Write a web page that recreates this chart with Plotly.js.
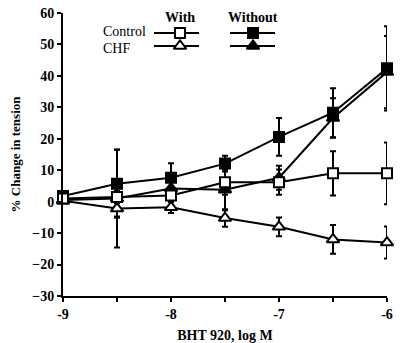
<!DOCTYPE html>
<html>
<head>
<meta charset="utf-8">
<script src="https://cdn.plot.ly/plotly-3.0.1.min.js"></script>
<style>html,body{margin:0;padding:0;background:#fff;}#chart{width:411px;height:343px;}</style>
</head>
<body>
<div id="chart"></div>
<script>
// Data
const logDose = [-9, -8.5, -8, -7.5, -7, -6.5, -6];
const controlWith = [1, 1.5, 2, 6.2, 6.2, 9, 9];
const controlWithErr = [0.8, 2, 2, 4, 4, 7, 9.8];
const controlWithout = [1.8, 5.7, 7.6, 12.1, 20.6, 28.3, 42.4];
const controlWithoutErr = [0.8, 10.8, 4.6, 2.5, 6, 7.8, 13.4];
const chfWith = [0.3, -2.2, -1.8, -5.2, -8, -12, -13];
const chfWithErr = [0.6, 2.5, 1.8, 2.8, 3, 4.6, 5.1];
const chfWithout = [0.5, 1, 4.2, 3.8, 7.6, 26.6, 41.2];
const chfWithoutErr = [0.6, 15.6, 4, 6.5, 3.8, 6.3, 11.5];
const xTickVals = [-9, -8.5, -8, -7.5, -7, -6.5, -6];
const xTickText = ['-9', '', '-8', '', '-7', '', '-6'];
const yTickVals = [-30, -20, -10, 0, 10, 20, 30, 40, 50, 60];

const FONT = 'Liberation Serif, Times New Roman, serif';
const BLACK = '#000';

function series(y, err, symbol, fill) {
  return {
    x: logDose, y: y, type: 'scatter', mode: 'lines+markers',
    cliponaxis: false, showlegend: false,
    line: {color: BLACK, width: 2},
    marker: {symbol: symbol, size: symbol.indexOf('triangle') >= 0 ? 11 : 10,
             color: fill, line: {color: BLACK, width: 2}},
    error_y: {type: 'data', array: err, visible: true, color: BLACK, thickness: 2, width: 3}
  };
}

const traces = [
  series(chfWithout, chfWithoutErr, 'triangle-up', BLACK),
  series(controlWithout, controlWithoutErr, 'square', BLACK),
  series(chfWith, chfWithErr, 'triangle-up', '#fff'),
  series(controlWith, controlWithErr, 'square', '#fff')
];

// Legend samples on a pixel-mapped overlay axis
const legCols = [[154, 199, 180], [230, 275, 253]];
const legRows = [33, 46];
const legSymbols = [['square', 'square'], ['triangle-up', 'triangle-up']];
const legFills = [['#fff', BLACK], ['#fff', BLACK]];
for (let r = 0; r < 2; r++) {
  for (let c = 0; c < 2; c++) {
    const [x0, x1, xm] = legCols[c];
    traces.push({
      x: [x0, x1], y: [legRows[r], legRows[r]], xaxis: 'x2', yaxis: 'y2',
      type: 'scatter', mode: 'lines', showlegend: false, hoverinfo: 'skip',
      line: {color: BLACK, width: 2}, cliponaxis: false
    });
    traces.push({
      x: [xm], y: [legRows[r]], xaxis: 'x2', yaxis: 'y2',
      type: 'scatter', mode: 'markers', showlegend: false, hoverinfo: 'skip', cliponaxis: false,
      marker: {symbol: legSymbols[r][c], size: legSymbols[r][c] === 'square' ? 10 : 11,
               color: legFills[r][c], line: {color: BLACK, width: 2}}
    });
  }
}

const layout = {
  width: 411, height: 343,
  margin: {l: 63, r: 24, t: 13, b: 47},
  paper_bgcolor: '#fff', plot_bgcolor: '#fff',
  font: {family: FONT, color: BLACK, size: 14, weight: 'bold'},
  xaxis: {
    range: [-9, -6], showgrid: false, zeroline: false,
    showline: true, linecolor: BLACK, linewidth: 2,
    ticks: 'outside', ticklen: 4, tickwidth: 2, tickcolor: BLACK,
    tickvals: xTickVals, ticktext: xTickText,
    tickfont: {family: FONT, size: 14, weight: 'bold'},
    title: {text: 'BHT 920, log M', font: {family: FONT, size: 14, weight: 'bold'}, standoff: 9}
  },
  yaxis: {
    range: [-30, 60], showgrid: false, zeroline: false,
    showline: true, linecolor: BLACK, linewidth: 2,
    ticks: 'outside', ticklen: 4, tickwidth: 2, tickcolor: BLACK,
    tickvals: yTickVals,
    tickfont: {family: FONT, size: 14, weight: 'bold'},
    title: {text: '% Change in tension', font: {family: FONT, size: 13, weight: 'bold'}, standoff: 9}
  },
  xaxis2: {overlaying: 'x', range: [63, 387], visible: false, fixedrange: true},
  yaxis2: {overlaying: 'y', range: [296, 13], visible: false, fixedrange: true},
  annotations: [
    {xref: 'x2', yref: 'y2', x: 180, y: 17, text: 'With', showarrow: false, xanchor: 'center', yanchor: 'middle',
     font: {family: FONT, size: 14, weight: 'bold'}},
    {xref: 'x2', yref: 'y2', x: 253, y: 17, text: 'Without', showarrow: false, xanchor: 'center', yanchor: 'middle',
     font: {family: FONT, size: 14, weight: 'bold'}},
    {xref: 'x2', yref: 'y2', x: 102, y: 40, text: 'Control', showarrow: false, xanchor: 'left', yanchor: 'bottom',
     borderpad: 0, font: {family: FONT, size: 14, weight: 'normal'}},
    {xref: 'x2', yref: 'y2', x: 102, y: 40, text: 'CHF', showarrow: false, xanchor: 'left', yanchor: 'top',
     borderpad: 0, font: {family: FONT, size: 14, weight: 'normal'}}
  ]
};

Plotly.newPlot('chart', traces, layout, {staticPlot: true, displayModeBar: false});
</script>
</body>
</html>
